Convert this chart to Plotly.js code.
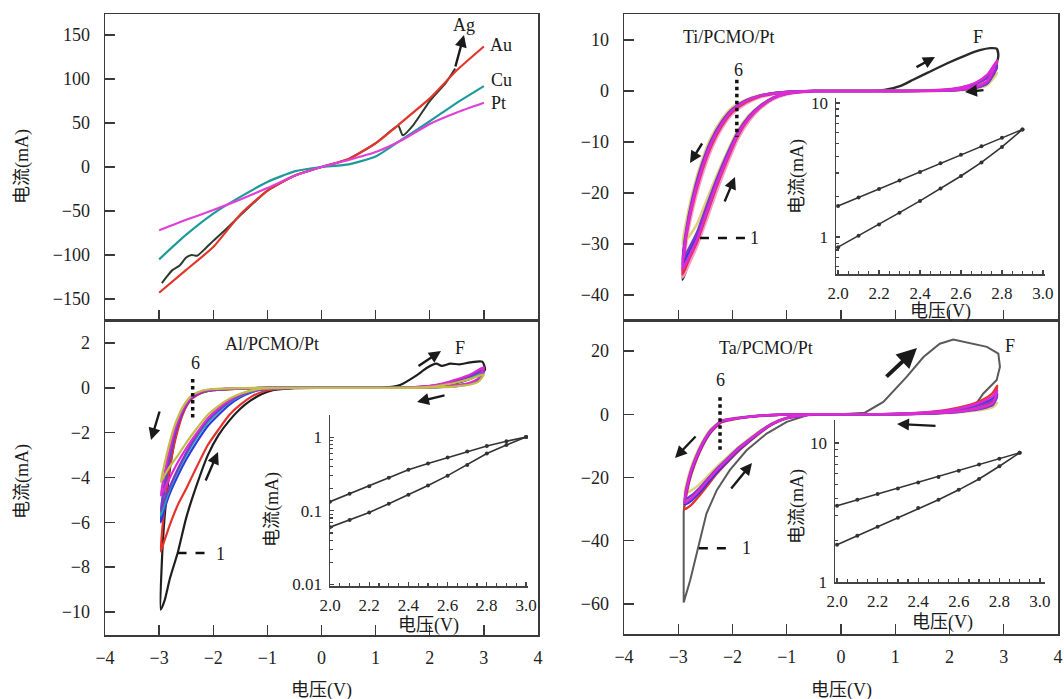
<!DOCTYPE html>
<html><head><meta charset="utf-8">
<script src="https://cdn.plot.ly/plotly-3.0.1.min.js"></script>
<style>html,body{margin:0;padding:0;background:#fff}#c{width:1064px;height:699px}</style>
</head><body><div id="c"></div>
<script>
// ---------- Top-left: electrode metals ----------
const tlV = [-3,-2.5,-2,-1.5,-1,-0.5,0,0.5,1,1.5,2,2.5,3];
const auI = [-143,-117,-91,-54,-27,-10,0,9,27,52,78,110,137];
const cuI = [-105,-77,-53,-34,-17,-5,0,3,12,32,52,73,92];
const ptI = [-72,-60,-49,-37,-24,-10,0,8,17,31,49,62,73];
const agV = [-2.95,-2.85,-2.75,-2.62,-2.5,-2.4,-2.3,-2.15,-2,-1.75,-1.5,-1,-0.5,0,0.5,1,1.3,1.42,1.5,1.7,2,2.3,2.47];
const agI = [-132,-124,-117,-112,-103,-100,-101,-93,-84,-70,-55,-27,-10,0,9,27,42,47,36,48,75,96,112];

// ---------- Al/PCMO/Pt ----------
const alOutV = [0,-1,-1.5,-2,-2.2,-2.4,-2.55,-2.7,-2.8,-2.9,-2.97];
const alRetV = [-2.97,-2.9,-2.8,-2.65,-2.5,-2.3,-2.1,-1.9,-1.7,-1.5,-1.3,-1.1,-0.9,-0.5,0];
const alFwdV = [0,1,1.5,2,2.25,2.5,2.75,2.9,3.0];
const alBackV = [3.0,2.75,2.5,2.25,2,1.5,1,0];
const alBkFwdV = [0,1,1.15,1.45,1.75,1.95,2.12,2.22,2.38,2.55,2.75,2.97,3.02];
const alBkFwdI = [0,0,0.01,0.13,0.55,0.9,1.08,0.98,1.08,1.05,1.14,1.17,0.8];
const alBkBackV = [3.02,2.8,2.5,2.2,2,1.5,1,0];
const alBkBackI = [0.8,0.45,0.22,0.1,0.05,0.01,0,0];
const alBkOutV = [0,-1,-1.5,-2,-2.2,-2.4,-2.55,-2.7,-2.8,-2.9,-2.95,-2.97];
const alBkOutI = [0,0,-0.03,-0.1,-0.2,-0.45,-1.0,-2.2,-3.6,-5.8,-7.8,-9.9];
const alBkRetI = [-9.9,-9.5,-8.5,-7.3,-5.8,-4.3,-3.0,-2.1,-1.45,-0.93,-0.55,-0.27,-0.1,-0.01,0];
const alRedFwd = [0,0,0,0.02,0.05,0.1,0.22,0.4,0.85],  alRedBack = [0.85,0.55,0.35,0.18,0.08,0.01,0,0];
const alRedOut = [0,0,-0.03,-0.1,-0.2,-0.5,-1.1,-2.3,-3.5,-5.3,-7.3];
const alRedRet = [-7.3,-6.8,-6.1,-5.2,-4.5,-3.5,-2.55,-1.85,-1.2,-0.75,-0.4,-0.18,-0.07,0,0];
const alBluFwd = [0,0,0,0.02,0.04,0.09,0.2,0.36,0.75], alBluBack = [0.75,0.5,0.3,0.16,0.07,0.01,0,0];
const alBluOut = [0,0,-0.02,-0.08,-0.18,-0.45,-1.0,-2.0,-3.1,-4.5,-6.0];
const alBluRet = [-6.0,-5.4,-4.7,-3.9,-3.2,-2.4,-1.7,-1.2,-0.75,-0.42,-0.2,-0.08,-0.03,0,0];
const alCyaFwd = [0,0,0,0.01,0.04,0.08,0.18,0.33,0.7], alCyaBack = [0.7,0.46,0.28,0.15,0.06,0.01,0,0];
const alCyaOut = [0,0,-0.02,-0.08,-0.17,-0.42,-0.95,-1.9,-3.0,-4.3,-5.7];
const alCyaRet = [-5.7,-5.2,-4.5,-3.7,-3.0,-2.2,-1.55,-1.05,-0.65,-0.36,-0.17,-0.07,-0.02,0,0];
const alPurFwd = [0,0,0,0.02,0.05,0.1,0.21,0.38,0.8], alPurBack = [0.8,0.52,0.32,0.17,0.08,0.01,0,0];
const alPurOut = [0,0,-0.02,-0.08,-0.17,-0.45,-1.0,-2.0,-3.0,-4.3,-5.5];
const alPurRet = [-5.5,-5.0,-4.4,-3.6,-2.9,-2.1,-1.45,-1.0,-0.6,-0.33,-0.15,-0.06,-0.02,0,0];
const alMagFwd = [0,0,0,0.02,0.05,0.11,0.24,0.43,0.92], alMagBack = [0.92,0.6,0.38,0.2,0.09,0.01,0,0];
const alMagOut = [0,0,-0.02,-0.07,-0.15,-0.4,-0.9,-1.8,-2.7,-3.8,-4.8];
const alMagRet = [-4.8,-4.5,-4.0,-3.3,-2.7,-2.0,-1.35,-0.9,-0.55,-0.3,-0.13,-0.05,-0.02,0,0];
const alOliFwd = [0,0,0,0.01,0.03,0.07,0.15,0.28,0.6], alOliBack = [0.6,0.4,0.24,0.13,0.05,0.01,0,0];
const alOliOut = [0,0,-0.01,-0.05,-0.12,-0.35,-0.8,-1.6,-2.4,-3.4,-4.2];
const alOliRet = [-4.2,-3.9,-3.5,-3.0,-2.45,-1.8,-1.2,-0.8,-0.48,-0.26,-0.12,-0.04,-0.01,0,0];

// ---------- Ti/PCMO/Pt ----------
const tiOutV = [0,-0.5,-1,-1.25,-1.5,-1.75,-2,-2.2,-2.4,-2.6,-2.75,-2.85,-2.92];
const tiRetV = [-2.92,-2.8,-2.65,-2.5,-2.3,-2.1,-1.9,-1.7,-1.5,-1.25,-1,-0.5,0];
const tiFwdV = [0,0.5,1,1.5,1.9,2.2,2.5,2.7,2.88];
const tiBackV = [2.88,2.7,2.5,2.2,1.9,1.5,1,0.5,0];
const tiBkFwdV = [0,0.5,0.8,1.1,1.33,1.6,1.95,2.3,2.56,2.75,2.87,2.9,2.88];
const tiBkFwdI = [0,0,0.2,1.0,2.2,3.6,5.4,7.0,8.0,8.4,8.3,7.0,5.8];
const tiBkBackV = [2.85,2.7,2.5,2.2,1.9,1.5,1,0.5,0];
const tiBkBackI = [5.0,1.7,0.75,0.28,0.1,0.02,0,0,0];
const tiBkOut = [0,0,-0.2,-0.45,-0.9,-1.8,-3.5,-6.2,-10,-16,-22,-28,-37];
const tiBkRet = [-37,-33.5,-29.5,-25,-19,-13.6,-8.8,-5.5,-3.3,-1.5,-0.5,-0.02,0];
const tiPnkFwd = [0,0,0,0.02,0.21,0.62,1.65,3.1,5.8], tiPnkBack = [5.8,1.9,0.85,0.3,0.1,0.02,0,0,0];
const tiPnkOut = [0,0,-0.24,-0.6,-1.2,-2.4,-4.4,-7.3,-11.6,-17.8,-23.8,-29.2,-36.5];
const tiPnkRet = [-36.5,-33.8,-30.2,-25.8,-19.8,-14.3,-9.3,-5.9,-3.5,-1.6,-0.6,-0.02,0];
const tiRedFwd = [0,0,0,0.02,0.2,0.6,1.6,3.0,5.5], tiRedBack = [5.5,1.8,0.8,0.3,0.1,0.02,0,0,0];
const tiRedOut = [0,0,-0.22,-0.55,-1.1,-2.2,-4.1,-6.9,-11,-17,-23,-28.5,-36];
const tiRedRet = [-36,-33,-29.5,-25,-19,-13.6,-8.8,-5.5,-3.3,-1.45,-0.55,-0.02,0];
const tiMagFwd = [0,0,0,0.02,0.22,0.65,1.7,3.2,6.0], tiMagBack = [6.0,2.0,0.9,0.3,0.1,0.02,0,0,0];
const tiMagOut = [0,0,-0.2,-0.5,-1.0,-2.0,-3.8,-6.5,-10.5,-16.5,-22.5,-28,-35];
const tiMagRet = [-35,-32.5,-29,-24.5,-18.5,-13.2,-8.5,-5.3,-3.2,-1.4,-0.5,-0.02,0];
const tiBluFwd = [0,0,0,0.02,0.18,0.55,1.5,2.8,5.0], tiBluBack = [5.0,1.6,0.7,0.25,0.08,0.02,0,0,0];
const tiBluOut = [0,0,-0.18,-0.45,-0.95,-1.9,-3.6,-6.2,-10,-16,-22,-27.5,-34];
const tiBluRet = [-34,-31.5,-28.2,-23.8,-18,-12.8,-8.2,-5.1,-3.1,-1.35,-0.48,-0.02,0];
const tiPurFwd = [0,0,0,0.02,0.17,0.5,1.4,2.6,4.6], tiPurBack = [4.6,1.5,0.65,0.22,0.08,0.02,0,0,0];
const tiPurOut = [0,0,-0.18,-0.45,-0.92,-1.85,-3.5,-6.0,-9.8,-15.5,-21.5,-27,-33];
const tiPurRet = [-33,-30.8,-27.6,-23.2,-17.5,-12.4,-8.0,-5.0,-3.0,-1.3,-0.46,-0.02,0];
const tiOliFwd = [0,0,0,0.01,0.1,0.35,1.0,1.9,3.5], tiOliBack = [3.5,1.2,0.5,0.18,0.06,0.01,0,0,0];
const tiOliOut = [0,0,-0.15,-0.4,-0.85,-1.7,-3.2,-5.6,-9.2,-14.8,-20.5,-25.5,-30];
const tiOliRet = [-30,-28.5,-26,-22,-16.8,-12,-7.7,-4.8,-2.9,-1.25,-0.45,-0.02,0];

// ---------- Ta/PCMO/Pt ----------
const taOutV = [0,-0.5,-1,-1.25,-1.5,-1.75,-2,-2.2,-2.4,-2.55,-2.7,-2.8,-2.88];
const taRetV = [-2.88,-2.75,-2.6,-2.45,-2.3,-2.1,-1.9,-1.7,-1.5,-1.25,-1,-0.5,0];
const taFwdV = [0,0.5,1,1.5,2,2.3,2.6,2.8,2.88];
const taBackV = [2.88,2.8,2.6,2.3,2,1.5,1,0.5,0];
const taBkOutV = [0,-0.5,-1,-1.25,-1.5,-1.75,-2,-2.2,-2.4,-2.55,-2.7,-2.8,-2.88,-2.9,-2.9];
const taBkOutI = [0,0,-0.1,-0.25,-0.5,-0.9,-1.5,-2.3,-5.4,-9.5,-15.2,-20.5,-27,-31,-59.5];
const taBkRetV = [-2.9,-2.78,-2.63,-2.48,-2.29,-2.05,-1.74,-1.37,-1.0,-0.63,0];
const taBkRetI = [-59.5,-52.5,-42,-31.4,-24,-17.7,-11.4,-6.1,-2.4,-0.3,0];
const taBkFwdV = [0,0.44,0.78,1.21,1.52,1.82,2.07,2.44,2.69,2.9,2.93,2.87,2.62];
const taBkFwdI = [0,0.5,3.9,11.8,18.1,22.3,23.6,22.3,21.3,19.2,15,10.8,6.5];
const taBkBackV = [2.62,2.5,2.2,1.9,1.5,1,0.5,0];
const taBkBackI = [6.5,3.5,1.8,1.0,0.4,0.1,0,0];
const taRedFwd = [0,0,0.1,0.5,1.5,2.6,4.5,6.8,9.0], taRedBack = [9.0,4.0,2.4,1.3,0.7,0.2,0,0,0];
const taRedOut = [0,0,-0.12,-0.3,-0.6,-1.0,-1.7,-2.5,-5.8,-10,-16,-21.5,-30];
const taRedRet = [-30,-28.5,-25.5,-22.3,-19,-15.3,-11.8,-8.8,-6.0,-3.1,-1.3,-0.05,0];
const taMagFwd = [0,0,0.1,0.45,1.3,2.3,4.0,5.8,7.5], taMagBack = [7.5,3.6,2.2,1.2,0.6,0.2,0,0,0];
const taMagOut = [0,0,-0.1,-0.25,-0.5,-0.9,-1.5,-2.2,-5.3,-9.3,-15,-20.3,-28];
const taMagRet = [-28,-26.5,-23.8,-20.8,-17.9,-14.5,-11.1,-8.3,-5.6,-2.9,-1.2,-0.05,0];
const taBluFwd = [0,0,0.08,0.4,1.1,2.0,3.4,5.0,6.3], taBluBack = [6.3,3.2,2.0,1.1,0.55,0.15,0,0,0];
const taBluOut = [0,0,-0.1,-0.25,-0.5,-0.9,-1.5,-2.3,-5.5,-9.6,-15.4,-20.8,-28.5];
const taBluRet = [-28.5,-27.2,-24.6,-21.6,-18.6,-15,-11.5,-8.6,-5.8,-3.0,-1.25,-0.05,0];
const taPurFwd = [0,0,0.08,0.35,1.0,1.8,3.1,4.5,5.6], taPurBack = [5.6,3.0,1.8,1.0,0.5,0.15,0,0,0];
const taPurOut = [0,0,-0.09,-0.22,-0.45,-0.85,-1.4,-2.1,-5.0,-9.0,-14.6,-19.8,-27];
const taPurRet = [-27,-25.6,-23.2,-20.3,-17.4,-14.1,-10.8,-8.1,-5.5,-2.8,-1.15,-0.05,0];
const taOliFwd = [0,0,0.05,0.25,0.7,1.2,2.0,2.9,3.6], taOliBack = [3.6,2.2,1.4,0.8,0.4,0.1,0,0,0];
const taOliOut = [0,0,-0.08,-0.2,-0.4,-0.8,-1.3,-2.0,-4.7,-8.5,-13.8,-18.8,-25];
const taOliRet = [-25,-24,-22,-19.4,-16.8,-13.6,-10.5,-7.8,-5.3,-2.7,-1.1,-0.05,0];

// ---------- Insets (log current vs voltage) ----------
const tiInV = [2.0,2.1,2.2,2.3,2.4,2.5,2.6,2.7,2.8,2.9];
const tiInUp = [1.70,1.97,2.28,2.64,3.06,3.55,4.1,4.75,5.5,6.35];
const tiInLo = [0.84,1.02,1.24,1.52,1.86,2.3,2.85,3.6,4.7,6.35];
const alInV = [2.0,2.1,2.2,2.3,2.4,2.5,2.6,2.7,2.8,2.9,3.0];
const alInUp = [0.133,0.17,0.215,0.28,0.36,0.44,0.53,0.64,0.76,0.88,1.0];
const alInLo = [0.06,0.075,0.095,0.125,0.165,0.22,0.3,0.42,0.6,0.78,1.0];
const taInV = [2.0,2.1,2.2,2.3,2.4,2.5,2.6,2.7,2.8,2.9];
const taInUp = [3.54,3.9,4.3,4.7,5.2,5.7,6.3,7.0,7.7,8.5];
const taInLo = [1.85,2.15,2.5,2.9,3.4,3.9,4.6,5.5,6.8,8.5];

// tick labels
const tlTicks = [-150,-100,-50,0,50,100,150];
const alTicks = [-10,-8,-6,-4,-2,0,2];
const tiTicks = [-40,-30,-20,-10,0,10];
const taTicks = [-60,-40,-20,0,20];
const vTicks = [-4,-3,-2,-1,0,1,2,3,4];
const inVTicks = [2.0,2.2,2.4,2.6,2.8,3.0];

// ---------- build ----------
const W = 1064, H = 699;
const FONT = '"Liberation Serif", "Noto Sans CJK SC", serif';
const C = {blk:'#1e1e1e', red:'#e5322d', blu:'#3038e0', cya:'#1fa8b0', mag:'#dd2ad6', pur:'#7d38c8', oli:'#c2bd48', gry:'#5a5a5a', yel:'#ddd27a', pnk:'#f39ad2'};

function path(segs){
  const x=[], y=[];
  segs.forEach(([vs,is])=>vs.forEach((v,k)=>{
    if(x.length && x[x.length-1]===v && y[y.length-1]===is[k]) return;
    x.push(v); y.push(is[k]);
  }));
  return {x,y};
}
function tr(ax, segs, color, width, shape){
  const p = path(segs);
  return {type:'scatter', mode:'lines', x:p.x, y:p.y, xaxis:'x'+ax, yaxis:'y'+ax,
    line:{color:color, width:width||2, shape:shape||'spline', smoothing:0.6}, hoverinfo:'skip'};
}
const data = [];
function tl(v,i,c,w){ data.push({type:'scatter',mode:'lines',x:v,y:i,xaxis:'x',yaxis:'y',line:{color:c,width:w||2.2,shape:'spline',smoothing:0.5},hoverinfo:'skip'}); }
tl(agV, agI, '#2b3a2b', 2);
tl(tlV, auI, '#e0362c');
tl(tlV, cuI, '#1f9a9a');
tl(tlV, ptI, '#e040d8');

// Al (axis 2)
data.push(tr('2', [[alBkFwdV,alBkFwdI],[alBkBackV,alBkBackI],[alBkOutV,alBkOutI],[alRetV,alBkRetI]], C.blk, 2.2));
[[alRedFwd,alRedBack,alRedOut,alRedRet,C.red],[alBluFwd,alBluBack,alBluOut,alBluRet,C.blu],
 [alCyaFwd,alCyaBack,alCyaOut,alCyaRet,C.cya],[alPurFwd,alPurBack,alPurOut,alPurRet,C.pur],
 [alMagFwd,alMagBack,alMagOut,alMagRet,C.mag],[alOliFwd,alOliBack,alOliOut,alOliRet,C.oli]]
 .forEach(([f,b,o,r,c])=>data.push(tr('2', [[alFwdV,f],[alBackV,b],[alOutV,o],[alRetV,r]], c, 2.2)));

// Ti (axis 3)
data.push(tr('3', [[tiBkFwdV,tiBkFwdI],[tiBkBackV,tiBkBackI],[tiOutV,tiBkOut],[tiRetV,tiBkRet]], '#2a2a2a', 2.4));
[[tiPnkFwd,tiPnkBack,tiPnkOut,tiPnkRet,C.pnk,3.2],[tiOliFwd,tiOliBack,tiOliOut,tiOliRet,C.yel,2.6],
 [tiRedFwd,tiRedBack,tiRedOut,tiRedRet,C.red,2.4],[tiBluFwd,tiBluBack,tiBluOut,tiBluRet,C.blu,2.4],
 [tiPurFwd,tiPurBack,tiPurOut,tiPurRet,C.pur,2.4],[tiMagFwd,tiMagBack,tiMagOut,tiMagRet,C.mag,2.6]]
 .forEach(([f,b,o,r,c,w])=>data.push(tr('3', [[tiFwdV,f],[tiBackV,b],[tiOutV,o],[tiRetV,r]], c, w)));

// Ta (axis 4)
data.push(tr('4', [[taBkFwdV,taBkFwdI],[taBkBackV,taBkBackI],[taBkOutV,taBkOutI],[taBkRetV,taBkRetI]], C.gry, 2, 'linear'));
[[taOliFwd,taOliBack,taOliOut,taOliRet,C.yel],[taRedFwd,taRedBack,taRedOut,taRedRet,C.red],
 [taBluFwd,taBluBack,taBluOut,taBluRet,C.blu],[taPurFwd,taPurBack,taPurOut,taPurRet,C.pur],
 [taMagFwd,taMagBack,taMagOut,taMagRet,C.mag]]
 .forEach(([f,b,o,r,c])=>data.push(tr('4', [[taFwdV,f],[taBackV,b],[taOutV,o],[taRetV,r]], c, 2.4)));

// insets
function ins(ax, v, i){ data.push({type:'scatter',mode:'lines+markers',x:v,y:i,xaxis:'x'+ax,yaxis:'y'+ax,
  line:{color:'#333',width:1.6},marker:{color:'#333',size:4},hoverinfo:'skip'}); }
ins('5', tiInV, tiInUp); ins('5', tiInV, tiInLo);
ins('6', alInV, alInUp); ins('6', alInV, alInLo);
ins('7', taInV, taInUp); ins('7', taInV, taInLo);

// ---------- layout ----------
const tickFont = {family:FONT, size:18, color:'#222'};
function mainAx(dom, range, tickvals, anchor, labels, isY){
  return {domain:dom, range:range, tickvals:tickvals, anchor:anchor, showticklabels:labels,
    showline:true, mirror:true, linecolor:'#3a3a3a', linewidth:1.5, ticks:'inside', ticklen:10,
    tickwidth:1.4, tickcolor:'#3a3a3a', showgrid:false, zeroline:false, tickfont:tickFont,
    ticklabelstandoff: isY?10:6, fixedrange:true};
}
function inAx(dom, range, anchor, opts){
  return Object.assign({domain:dom, range:range, anchor:anchor, showline:true, mirror:false,
    linecolor:'#444', linewidth:1.5, ticks:'inside', ticklen:4, tickwidth:1.2, tickcolor:'#444',
    showgrid:false, zeroline:false, tickfont:{family:FONT,size:17,color:'#222'}, ticklabelstandoff:3}, opts);
}
const LX = [105/W, 538/W], RX = [624/W, 1058/W];
const TY = [1-320/H, 1-14/H], BY = [1-635/H, 1-320/H], BYR = [1-634/H, 1-320/H];
const layout = {
  width:W, height:H, margin:{l:0,r:0,t:0,b:0}, showlegend:false,
  paper_bgcolor:'#fff', plot_bgcolor:'rgba(0,0,0,0)',
  xaxis: mainAx(LX, [-4,4], vTicks, 'y', false),
  yaxis: mainAx(TY, [-174,174], tlTicks, 'x', true, true),
  xaxis2: mainAx(LX, [-4,4], vTicks, 'y2', true),
  yaxis2: mainAx(BY, [-11.03,3.03], alTicks, 'x2', true, true),
  xaxis3: mainAx(RX, [-4,4], vTicks, 'y3', false),
  yaxis3: mainAx(TY, [-44.9,15.1], tiTicks, 'x3', true, true),
  xaxis4: mainAx(RX, [-4,4], vTicks, 'y4', true),
  yaxis4: mainAx(BYR, [-69.5,29.8], taTicks, 'x4', true, true),
  xaxis5: inAx([836/W,1045/W], [1.99,3.01], 'y5', {tickvals:inVTicks, tickformat:'.1f', minor:{dtick:0.05,ticks:'inside',ticklen:3,tickcolor:'#444'}}),
  yaxis5: inAx([1-274/H,1-98/H], [-0.276,1.037], 'x5', {type:'log', tickvals:[1,10], ticktext:['1','10'],
    minor:{tickvals:[0.6,0.7,0.8,0.9,2,3,4,5,6,7,8,9],ticks:'inside',ticklen:3,tickcolor:'#444'}}),
  xaxis6: inAx([330/W,528/W], [2.0,3.01], 'y6', {tickvals:inVTicks, tickformat:'.1f', minor:{dtick:0.05,ticks:'inside',ticklen:3,tickcolor:'#444'}}),
  yaxis6: inAx([1-586/H,1-415/H], [-2.02,0.30], 'x6', {type:'log', tickvals:[0.01,0.1,1], ticktext:['0.01','0.1','1'],
    minor:{tickvals:[0.02,0.03,0.04,0.05,0.06,0.07,0.08,0.09,0.2,0.3,0.4,0.5,0.6,0.7,0.8,0.9,2],ticks:'inside',ticklen:3,tickcolor:'#444'}}),
  xaxis7: inAx([835/W,1045/W], [1.99,3.025], 'y7', {tickvals:inVTicks, tickformat:'.1f', minor:{dtick:0.05,ticks:'inside',ticklen:3,tickcolor:'#444'}}),
  yaxis7: inAx([1-582/H,1-420/H], [0,1.165], 'x7', {type:'log', tickvals:[1,10], ticktext:['1','10'],
    minor:{tickvals:[2,3,4,5,6,7,8,9],ticks:'inside',ticklen:3,tickcolor:'#444'}}),
  annotations:[], shapes:[]
};
function txt(X,Y,t,o){ layout.annotations.push(Object.assign({xref:'paper',yref:'paper',x:X/W,y:1-Y/H,text:t,showarrow:false,
  xanchor:'center',yanchor:'middle',font:{family:FONT,size:18,color:'#1a1a1a'}},o||{})); }
function arr(hx,hy,tx,ty,w,s){ layout.annotations.push({xref:'paper',yref:'paper',x:hx/W,y:1-hy/H,ax:tx-hx,ay:ty-hy,
  axref:'pixel',ayref:'pixel',showarrow:true,arrowhead:2,arrowsize:s||1,arrowwidth:w||2.4,arrowcolor:'#1a1a1a',text:''}); }
// titles
txt(22,167,'电流(mA)',{textangle:-90});
txt(22,482,'电流(mA)',{textangle:-90});
txt(321,690,'电压(V)'); txt(841,690,'电压(V)');
txt(797,177,'电流(mA)',{textangle:-90}); txt(940,311,'电压(V)');
txt(272,510,'电流(mA)',{textangle:-90}); txt(428,625,'电压(V)');
txt(797,507,'电流(mA)',{textangle:-90}); txt(942,622,'电压(V)');
// labels
txt(464,25,'Ag'); txt(501,45,'Au'); txt(501,80,'Cu'); txt(498,103,'Pt');
txt(728,37,'Ti/PCMO/Pt'); txt(978,37,'F'); txt(738,70,'6'); txt(754,238,'1');
txt(272,344,'Al/PCMO/Pt'); txt(460,348,'F'); txt(195,363,'6'); txt(220,554,'1');
txt(766,348,'Ta/PCMO/Pt'); txt(1010,346,'F'); txt(720,380,'6'); txt(746,548,'1');
// arrows
arr(464,35,455,68,2.4);
arr(690,163,703,142); arr(735,177,724,203); arr(935,57,915,68); arr(965,92,985,90);
arr(151,440,160,410); arr(218,452,205,482); arr(441,351,417,367); arr(417,402,446,395);
arr(675,458,697,435); arr(752,463,730,490); arr(917,348,885,378,4,1); arr(897,424,937,426);
// guide lines for cycles 1 and 6
function gl(ax,x0,y0,x1,y1,dash,w){ layout.shapes.push({type:'line',xref:'x'+ax,yref:'y'+ax,x0:x0,y0:y0,x1:x1,y1:y1,
  line:{color:'#111',width:w,dash:dash}}); }
gl('3',-1.92,2.2,-1.92,-9,'dot',3.5); gl('3',-2.6,-28.8,-1.75,-28.8,'dash',2.5);
gl('2',-2.38,0.4,-2.38,-1.43,'dot',3.5); gl('2',-2.66,-7.37,-2.08,-7.37,'dash',2.5);
gl('4',-2.23,5.4,-2.23,-12.3,'dot',3.5); gl('4',-2.62,-42.4,-2.0,-42.4,'dash',2.5);

Plotly.newPlot('c', data, layout, {staticPlot:true, displayModeBar:false});
</script></body></html>
